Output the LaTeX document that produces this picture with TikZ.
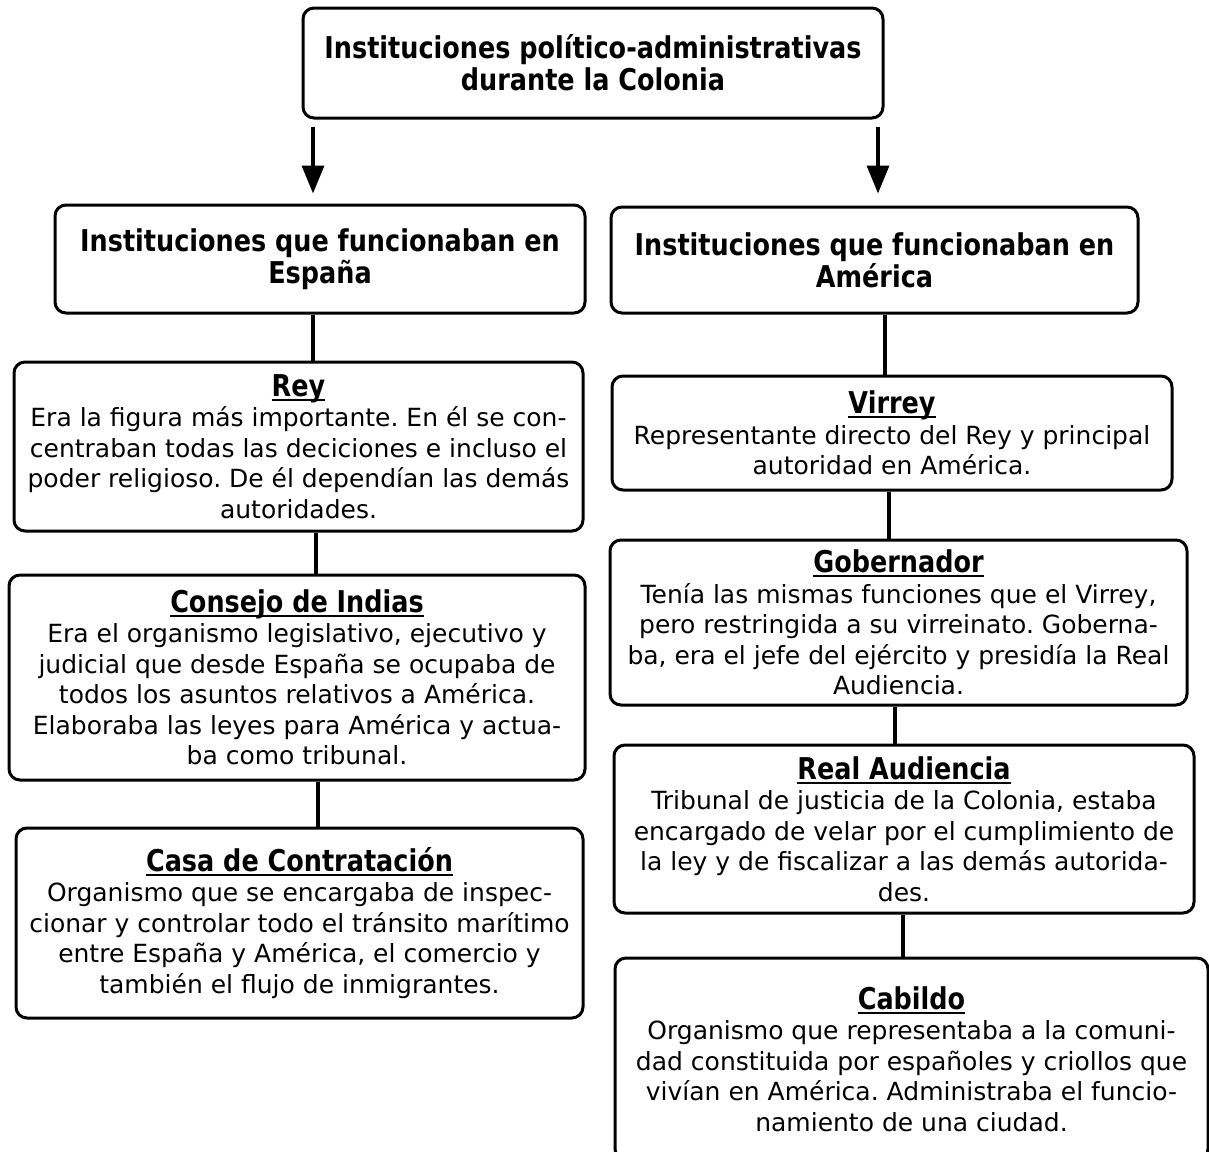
\documentclass[tikz,border=0pt]{standalone}
\usepackage{fontspec}
\setmainfont{DejaVu Sans}
\newfontfamily\hfont{DejaVu Sans}[FakeStretch=0.85]
\usetikzlibrary{arrows.meta}
\frenchspacing
\newcommand{\ttl}[1]{{\hfont\bfseries\fontsize{30}{30.5}\selectfont
  \setbox0\hbox{#1}\rlap{\rule[-4.5pt]{\wd0}{2pt}}\box0}}
\begin{document}
\begin{tikzpicture}[x=1pt,y=-1pt,
  box/.style={draw=black, line width=3pt, rounded corners=11pt, inner sep=0pt, align=center,
    font=\frenchspacing\fontsize{25}{30.5}\selectfont},
  head/.style={box, font=\hfont\bfseries\fontsize{30}{32}\selectfont},
  conn/.style={draw=black, line width=4.5pt},
  arr/.style={draw=black, line width=3.5pt, -{Triangle[width=22pt,length=28pt]}}]
\useasboundingbox (0,0) rectangle (1209,1151);
\clip (0,0) rectangle (1209,1151);
% top
\node[head, minimum width=580pt, minimum height=110pt] (top) at (593,63)
  {Instituciones político-administrativas\\durante la Colonia};
% left column
\node[head, minimum width=530pt, minimum height=108pt] (esp) at (320,259)
  {Instituciones que funcionaban en\\España};
\node[box, minimum width=569pt, minimum height=169pt] (rey) at (298.5,446.5)
  {\ttl{Rey}\\Era la figura más importante. En él se con-\\centraban todas las deciciones e incluso el\\poder religioso. De él dependían las demás\\autoridades.};
\node[box, minimum width=576pt, minimum height=205pt] (con) at (297,677.5)
  {\ttl{Consejo de Indias}\\Era el organismo legislativo, ejecutivo y\\judicial que desde España se ocupaba de\\todos los asuntos relativos a América.\\Elaboraba las leyes para América y actua-\\ba como tribunal.};
\node[box, minimum width=567pt, minimum height=190pt] (casa) at (299.5,923)
  {\ttl{Casa de Contratación}\\Organismo que se encargaba de inspec-\\cionar y controlar todo el tránsito marítimo\\entre España y América, el comercio y\\también el flujo de inmigrantes.};
% right column
\node[head, minimum width=527pt, minimum height=106pt] (ame) at (874.5,260)
  {Instituciones que funcionaban en\\América};
\node[box, minimum width=560pt, minimum height=114pt] (vir) at (892,433)
  {\ttl{Virrey}\\Representante directo del Rey y principal\\autoridad en América.};
\node[box, minimum width=577pt, minimum height=165pt] (gob) at (898.5,622.5)
  {\ttl{Gobernador}\\Tenía las mismas funciones que el Virrey,\\pero restringida a su virreinato. Goberna-\\ba, era el jefe del ejército y presidía la Real\\Audiencia.};
\node[box, minimum width=580pt, minimum height=168pt] (aud) at (904,829)
  {\ttl{Real Audiencia}\\Tribunal de justicia de la Colonia, estaba\\encargado de velar por el cumplimiento de\\la ley y de fiscalizar a las demás autorida-\\des.};
\node[box, minimum width=593pt, minimum height=202pt] (cab) at (911.5,1059)
  {\ttl{Cabildo}\\Organismo que representaba a la comuni-\\dad constituida por españoles y criollos que\\vivían en América. Administraba el funcio-\\namiento de una ciudad.};
% arrows
\coordinate (a1) at ([yshift=-7pt]top.south -| 313,0);
\coordinate (a2) at ([yshift=-7pt]top.south -| 878,0);
\draw[arr] (a1) -- ([yshift=10pt]esp.north -| 313,0);
\draw[arr] (a2) -- ([yshift=12pt]ame.north -| 878,0);
% connectors
\draw[conn] (esp.south -| 313,0) -- (rey.north -| 313,0);
\draw[conn] (rey.south -| 316,0) -- (con.north -| 316,0);
\draw[conn] (con.south -| 318,0) -- (casa.north -| 318,0);
\draw[conn] (ame.south -| 885,0) -- (vir.north -| 885,0);
\draw[conn] (vir.south -| 889,0) -- (gob.north -| 889,0);
\draw[conn] (gob.south -| 895,0) -- (aud.north -| 895,0);
\draw[conn] (aud.south -| 903,0) -- (cab.north -| 903,0);
\end{tikzpicture}
\end{document}
